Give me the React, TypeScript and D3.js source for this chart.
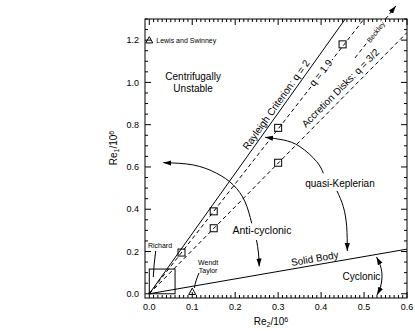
import React from 'react';
import * as d3 from 'd3';

// axis ticks
const xTicks = [0, 0.1, 0.2, 0.3, 0.4, 0.5, 0.6];
const yTicks = [0, 0.2, 0.4, 0.6, 0.8, 1.0, 1.2];

// slopes Re1/Re2 of the reference lines
const slopeRayleigh = 2.85;
const slopeQ19 = 2.6;
const slopeKepler = 2.06;
const slopeSolid = 0.352;

// experiments (squares)
const sqX = [0.075, 0.15, 0.15, 0.3, 0.3, 0.45];
const sqY = [0.195, 0.39, 0.31, 0.785, 0.62, 1.18];

// triangles: Lewis & Swinney, Wendt / Taylor
const triX = [0.0, 0.1];
const triY = [1.2, 0.01];

// Richard box
const richardBox = [0, 0, 0.06, 0.117];

// annotation curves (data coords)
const antiUpper: [number, number][] = [
  [0.2384, 0.3336], [0.2228, 0.4357], [0.1956, 0.5148], [0.1569, 0.5701], [0.1024, 0.6094], [0.0326, 0.6203],
];
const antiLower: [number, number][] = [[0.2496, 0.2545], [0.2542, 0.193], [0.2559, 0.1292]];
const quasiUpper: [number, number][] = [
  [0.4051, 0.5701], [0.3898, 0.625], [0.3509, 0.696], [0.312, 0.7277], [0.2694, 0.7404],
];
const quasiLower: [number, number][] = [[0.437, 0.4864], [0.4517, 0.4121], [0.4596, 0.3175], [0.461, 0.2025]];
const cyclonic: [number, number][] = [
  [0.529, 0.1741], [0.5383, 0.1315], [0.5418, 0.0809], [0.5383, 0.0322], [0.5302, -0.0057],
];
const richardLeader: [number, number][] = [[0.0149, 0.2025], [0.0114, 0.141], [0.0093, 0.0795]];
const wendtLeader: [number, number][] = [[0.1157, 0.0984], [0.1087, 0.0606], [0.1048, 0.0274]];
const beckley: [number, number][] = [[0.479, 1.116], [0.574, 1.362]];

const W = 415;
const H = 331;
const font = 'Liberation Sans, Arial, Helvetica, sans-serif';

const App: React.FC = () => {
  const x = d3.scaleLinear().domain([-0.01, 0.6]).range([145, 407]);
  const y = d3.scaleLinear().domain([-0.02, 1.3]).range([298, 19]);
  const [x0, x1] = x.range();
  const [y0, y1] = y.range();

  const curve = d3
    .line<[number, number]>()
    .x((d) => x(d[0]))
    .y((d) => y(d[1]))
    .curve(d3.curveNatural);
  const straight = d3
    .line<[number, number]>()
    .x((d) => x(d[0]))
    .y((d) => y(d[1]));

  const angle = (s: number) =>
    (Math.atan2(y(s) - y(0), x(1) - x(0)) * 180) / Math.PI;

  const lineTo = (s: number): [number, number][] => [[0, 0], [0.6, 0.6 * s]];

  const xMinor = d3.range(0, 0.6001, 0.01).filter((v) => Math.abs(v * 10 - Math.round(v * 10)) > 1e-6);
  const yMinor = d3.range(0, 1.3001, 0.05).filter((v) => Math.abs(v * 5 - Math.round(v * 5)) > 1e-6);

  const label = (
    s: number,
    xd: number,
    txt: string,
    dy: string,
    size: number,
    halo = false,
  ) => (
    <text
      transform={`translate(${x(xd)},${y(xd * s)}) rotate(${angle(s)})`}
      textAnchor="middle"
      dy={dy}
      fontSize={size}
      stroke={halo ? 'white' : 'none'}
      strokeWidth={halo ? 4 : 0}
      style={{ paintOrder: 'stroke' }}
      fill="black">
      {txt}
    </text>
  );

  const tri = (cx: number, cy: number) =>
    `M${cx},${cy - 3.5} L${cx + 3.5},${cy + 2.8} L${cx - 3.5},${cy + 2.8} Z`;

  return (
    <svg
      width={W}
      height={H}
      style={{ position: 'absolute', left: 0, top: 0, background: 'white' }}
      fontFamily={font}>
      <defs>
        <clipPath id="plot">
          <rect x={x0} y={y1} width={x1 - x0} height={y0 - y1} />
        </clipPath>
        <marker
          id="arr"
          viewBox="0 -3 8 6"
          refX={8}
          refY={0}
          markerWidth={8}
          markerHeight={6}
          markerUnits="userSpaceOnUse"
          orient="auto-start-reverse">
          <path d="M0,-2.6 L8,0 L0,2.6 Z" fill="black" />
        </marker>
      </defs>

      {/* frame */}
      <rect x={x0} y={y1} width={x1 - x0} height={y0 - y1} fill="none" stroke="black" strokeWidth={1} />

      {/* ticks, inward */}
      <g stroke="black" strokeWidth={1}>
        {xTicks.map((t) => (
          <g key={'xt' + t}>
            <line x1={x(t)} x2={x(t)} y1={y0} y2={y0 - 6} />
            <line x1={x(t)} x2={x(t)} y1={y1} y2={y1 + 6} />
          </g>
        ))}
        {xMinor.map((t) => (
          <g key={'xm' + t}>
            <line x1={x(t)} x2={x(t)} y1={y0} y2={y0 - 3} />
            <line x1={x(t)} x2={x(t)} y1={y1} y2={y1 + 3} />
          </g>
        ))}
        {yTicks.map((t) => (
          <g key={'yt' + t}>
            <line x1={x0} x2={x0 + 6} y1={y(t)} y2={y(t)} />
            <line x1={x1} x2={x1 - 6} y1={y(t)} y2={y(t)} />
          </g>
        ))}
        {yMinor.map((t) => (
          <g key={'ym' + t}>
            <line x1={x0} x2={x0 + 3} y1={y(t)} y2={y(t)} />
            <line x1={x1} x2={x1 - 3} y1={y(t)} y2={y(t)} />
          </g>
        ))}
      </g>

      {/* tick labels */}
      <g fontSize={9} fill="black">
        {xTicks.map((t) => (
          <text key={'xl' + t} x={x(t)} y={307} dy="0.35em" textAnchor="middle">
            {t.toFixed(1)}
          </text>
        ))}
        {yTicks.map((t) => (
          <text key={'yl' + t} x={139} y={y(t)} dy="0.35em" textAnchor="end">
            {t.toFixed(1)}
          </text>
        ))}
      </g>

      {/* axis titles */}
      <text x={271} y={321} dy="0.35em" textAnchor="middle" fontSize={10}>
        Re<tspan fontSize={7} dy={2}>2</tspan>
        <tspan dy={-2}>/10</tspan>
        <tspan fontSize={7} dy={-3}>6</tspan>
      </text>
      <text transform="translate(113,148) rotate(-90)" dy="0.35em" textAnchor="middle" fontSize={10}>
        Re<tspan fontSize={7} dy={2}>1</tspan>
        <tspan dy={-2}>/10</tspan>
        <tspan fontSize={7} dy={-3}>6</tspan>
      </text>

      {/* reference lines */}
      <g clipPath="url(#plot)" fill="none" stroke="black" strokeWidth={1}>
        <path d={straight(lineTo(slopeRayleigh)) || ''} />
        <path d={straight(lineTo(slopeQ19)) || ''} strokeDasharray="4,3" />
        <path d={straight(lineTo(slopeKepler)) || ''} strokeDasharray="4,3" />
        <path d={straight(lineTo(slopeSolid)) || ''} />
      </g>

      {/* Beckley arrow */}
      <path d={straight(beckley) || ''} fill="none" stroke="black" strokeDasharray="4,3" markerEnd="url(#arr)" />

      {/* line labels */}
      {label(slopeRayleigh, 0.3075, 'Rayleigh Criterion: q = 2', '-3', 10)}
      {label(slopeQ19, 0.401, 'q = 1.9', '0.25em', 10, true)}
      {label(slopeKepler, 0.459, 'Accretion Disks: q = 3/2', '-5', 10)}
      {label(slopeSolid, 0.3877, 'Solid Body', '-3', 10)}
      <text
        transform={`translate(${x(0.528)},${y(1.237)}) rotate(${angle((1.362 - 1.116) / (0.574 - 0.479))})`}
        textAnchor="middle"
        dy="0.3em"
        fontSize={7}
        stroke="white"
        strokeWidth={3}
        style={{ paintOrder: 'stroke' }}>
        Beckley
      </text>

      {/* squares */}
      {sqX.map((v, i) => (
        <rect key={'sq' + i} x={x(v) - 3.5} y={y(sqY[i]) - 3.5} width={7} height={7} fill="none" stroke="black" />
      ))}

      {/* triangles */}
      {triX.map((v, i) => (
        <path key={'tr' + i} d={tri(x(v), y(triY[i]))} fill="none" stroke="black" />
      ))}

      {/* Richard box */}
      <rect
        x={x(richardBox[0])}
        y={y(richardBox[3])}
        width={x(richardBox[2]) - x(richardBox[0])}
        height={y(richardBox[1]) - y(richardBox[3])}
        fill="none"
        stroke="black"
      />

      {/* curved annotation arrows */}
      <g fill="none" stroke="black" strokeWidth={1}>
        <path d={curve(antiUpper) || ''} markerEnd="url(#arr)" />
        <path d={curve(antiLower) || ''} markerEnd="url(#arr)" />
        <path d={curve(quasiUpper) || ''} markerEnd="url(#arr)" />
        <path d={curve(quasiLower) || ''} markerEnd="url(#arr)" />
        <path d={curve(cyclonic) || ''} markerStart="url(#arr)" markerEnd="url(#arr)" />
        <path d={curve(richardLeader) || ''} />
        <path d={curve(wendtLeader) || ''} />
      </g>

      {/* annotation texts */}
      <g fill="black">
        <text x={x(0) + 7} y={y(1.2)} dy="0.35em" fontSize={7}>Lewis and Swinney</text>
        <text x={x(0.102)} y={y(1.0)} textAnchor="middle" fontSize={10}>
          <tspan x={x(0.102)} dy="-2">Centrifugally</tspan>
          <tspan x={x(0.102)} dy="12">Unstable</tspan>
        </text>
        <text x={x(0.025)} y={y(0.226)} dy="0.35em" textAnchor="middle" fontSize={7}>Richard</text>
        <text x={x(0.137)} y={y(0.138)} textAnchor="middle" fontSize={7}>
          <tspan x={x(0.137)} dy="0">Wendt</tspan>
          <tspan x={x(0.137)} dy="8.5">Taylor</tspan>
        </text>
        <text x={x(0.2624)} y={y(0.302)} dy="0.35em" textAnchor="middle" fontSize={10.5}>Anti-cyclonic</text>
        <text x={x(0.444)} y={y(0.524)} dy="0.35em" textAnchor="middle" fontSize={10}>quasi-Keplerian</text>
        <text x={x(0.494)} y={y(0.081)} dy="0.35em" textAnchor="middle" fontSize={10}>Cyclonic</text>
      </g>
    </svg>
  );
};

export default App;
